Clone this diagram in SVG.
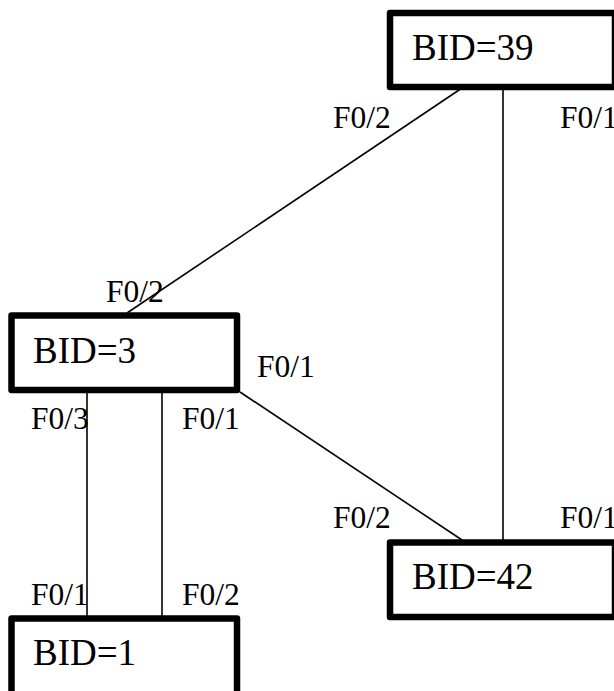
<svg xmlns="http://www.w3.org/2000/svg" width="614" height="691" viewBox="0 0 614 691">
<style>
.box{fill:#fff;stroke:#000;stroke-width:6.5;stroke-linejoin:round}
.bid{font-family:"Liberation Serif","Times New Roman",serif;font-size:37px;fill:#000}
.lbl{font-family:"Liberation Serif","Times New Roman",serif;font-size:31.5px;fill:#000}
.conn{stroke:#000;stroke-width:1.6;fill:none}
</style>
<rect width="614" height="691" fill="#fff"/>
<g id="connectors">
<line class="conn" x1="462" y1="88" x2="127" y2="313"/>
<line class="conn" x1="503" y1="88" x2="503" y2="541"/>
<line class="conn" x1="240" y1="392" x2="462" y2="540"/>
<line class="conn" x1="87" y1="390" x2="87" y2="617"/>
<line class="conn" x1="162" y1="390" x2="162" y2="617"/>
</g>
<g id="node-bid39">
<rect class="box" x="390" y="13" width="225" height="74"/>
<text class="bid" x="412" y="60">BID=39</text>
</g>
<g id="node-bid3">
<rect class="box" x="11.5" y="315.5" width="225.5" height="74.5"/>
<text class="bid" x="33" y="363">BID=3</text>
</g>
<g id="node-bid42">
<rect class="box" x="390" y="542.5" width="225" height="74.5"/>
<text class="bid" x="412" y="589">BID=42</text>
</g>
<g id="node-bid1">
<rect class="box" x="11.5" y="618.5" width="225.5" height="80"/>
<text class="bid" x="33" y="665">BID=1</text>
</g>
<g id="labels">
<text class="lbl" x="333" y="128">F0/2</text>
<text class="lbl" x="560" y="128">F0/1</text>
<text class="lbl" x="106" y="302">F0/2</text>
<text class="lbl" x="257" y="377">F0/1</text>
<text class="lbl" x="31" y="429">F0/3</text>
<text class="lbl" x="182" y="429">F0/1</text>
<text class="lbl" x="333" y="528">F0/2</text>
<text class="lbl" x="560" y="528">F0/1</text>
<text class="lbl" x="31" y="605">F0/1</text>
<text class="lbl" x="182" y="605">F0/2</text>
</g>
</svg>
